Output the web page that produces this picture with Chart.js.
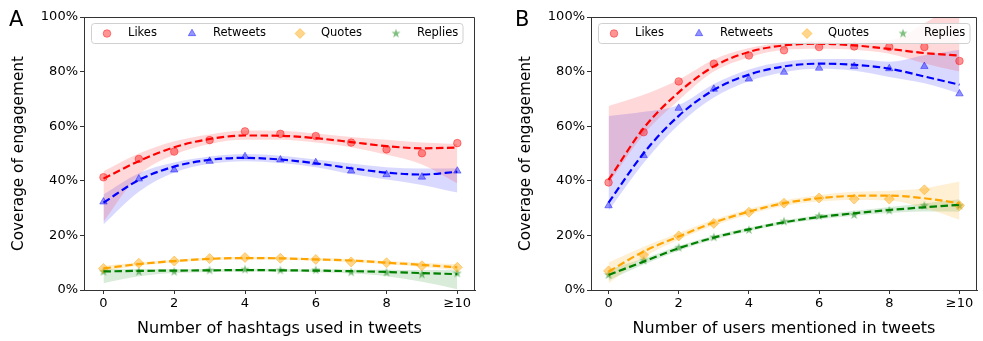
<!DOCTYPE html>
<html>
<head>
<meta charset="utf-8">
<script src="https://cdn.jsdelivr.net/npm/chart.js@4.4.1/dist/chart.umd.min.js"></script>
<style>
  html, body { margin: 0; padding: 0; background: #fff; }
  #wrap { position: relative; width: 983px; height: 341px; }
  .panel { position: absolute; top: 0; height: 341px; }
  #panelA { left: 0; width: 491px; }
  #panelB { left: 491px; width: 492px; }
</style>
</head>
<body>
<div id="wrap">
  <div class="panel" id="panelA"><canvas id="chartA" width="491" height="341"></canvas></div>
  <div class="panel" id="panelB"><canvas id="chartB" width="492" height="341"></canvas></div>
</div>
<script>
// ---- data (percent) ----
const xValues = [0, 1, 2, 3, 4, 5, 6, 7, 8, 9, 10];
const xTickValues = [0, 2, 4, 6, 8, 10];
const xTickLabels = ['0', '2', '4', '6', '8', '≥10'];
const yTickValues = [0, 20, 40, 60, 80, 100];
const seriesNames = ['Likes', 'Retweets', 'Quotes', 'Replies'];

// A: hashtags
const likesA      = [41.3, 48.0, 50.7, 54.9, 58.1, 57.2, 56.4, 54.0, 51.5, 50.1, 53.8];
const likesFitA   = [40.8, 47.2, 52.3, 55.3, 56.6, 56.5, 55.6, 54.2, 52.7, 51.9, 52.2];
const likesLoA    = [25.0, 42.0, 49.5, 53.5, 55.0, 55.0, 54.0, 52.3, 49.5, 46.0, 39.0];
const likesHiA    = [43.5, 50.0, 54.5, 57.0, 58.4, 58.3, 57.3, 56.0, 55.0, 54.0, 53.5];
const retweetsA    = [32.3, 40.7, 44.0, 47.2, 48.9, 47.7, 46.7, 43.6, 42.3, 41.4, 43.6];
const retweetsFitA = [32.0, 40.3, 45.2, 47.7, 48.4, 47.8, 46.4, 44.6, 43.0, 42.3, 43.3];
const retweetsLoA  = [24.0, 36.0, 43.0, 46.2, 47.2, 46.5, 45.0, 42.5, 40.5, 38.5, 35.7];
const retweetsHiA  = [35.0, 42.8, 46.7, 48.9, 49.8, 49.2, 47.8, 46.3, 45.0, 44.5, 44.6];
const quotesA    = [7.9, 9.8, 10.6, 11.5, 11.9, 11.6, 11.2, 10.3, 10.0, 8.9, 8.3];
const quotesFitA = [7.9, 9.5, 10.6, 11.4, 11.7, 11.6, 11.2, 10.8, 10.0, 9.2, 8.3];
const quotesLoA  = [6.9, 8.9, 10.1, 10.9, 11.2, 11.1, 10.7, 10.2, 9.4, 8.4, 7.2];
const quotesHiA  = [8.9, 10.1, 11.1, 11.9, 12.2, 12.1, 11.7, 11.4, 10.6, 10.0, 9.4];
const repliesA    = [6.7, 6.7, 6.7, 7.2, 7.5, 7.2, 7.3, 6.5, 6.4, 5.7, 6.1];
const repliesFitA = [6.8, 7.0, 7.1, 7.2, 7.3, 7.2, 7.1, 6.9, 6.6, 6.2, 5.8];
const repliesLoA  = [2.5, 5.0, 6.2, 6.6, 6.8, 6.7, 6.5, 6.0, 5.0, 3.0, 0.3];
const repliesHiA  = [7.8, 7.7, 7.7, 7.7, 7.8, 7.7, 7.6, 7.5, 7.4, 7.3, 7.4];

// B: users mentioned
const likesB      = [39.4, 57.8, 76.4, 82.9, 85.9, 87.8, 89.0, 89.2, 89.0, 89.0, 83.9];
const likesFitB   = [40.3, 59.3, 72.4, 81.9, 87.2, 89.6, 90.2, 89.6, 88.3, 86.8, 85.9];
const likesLoB    = [39.0, 57.0, 69.5, 80.0, 85.2, 88.0, 88.4, 88.0, 86.5, 83.0, 80.0];
const likesHiB    = [67.4, 71.5, 77.0, 84.4, 88.6, 90.7, 91.4, 91.7, 91.6, 97.7, 106.0];
const retweetsB    = [30.9, 49.3, 66.6, 73.6, 77.3, 79.8, 81.3, 81.9, 81.1, 81.9, 71.9];
const retweetsFitB = [32.0, 50.1, 63.8, 73.3, 78.9, 81.9, 82.9, 82.5, 81.1, 78.2, 75.2];
const retweetsLoB  = [29.0, 46.5, 60.5, 70.5, 76.5, 79.8, 81.0, 80.3, 78.0, 75.7, 72.0];
const retweetsHiB  = [63.7, 65.3, 67.8, 75.5, 80.8, 83.6, 84.6, 84.6, 83.6, 86.0, 88.0];
const quotesB    = [7.0, 12.8, 19.8, 24.4, 28.5, 31.8, 33.7, 33.3, 33.3, 36.7, 30.9];
const quotesFitB = [6.7, 14.1, 19.6, 24.7, 28.7, 31.8, 33.6, 34.5, 34.6, 33.6, 31.8];
const quotesLoB  = [2.4, 12.0, 18.4, 23.6, 27.7, 30.8, 32.4, 33.0, 32.8, 30.0, 25.7];
const quotesHiB  = [10.1, 15.8, 20.9, 25.8, 29.7, 32.8, 34.8, 36.0, 36.4, 37.3, 39.7];
const repliesB    = [5.5, 10.8, 15.5, 19.3, 22.0, 25.1, 27.1, 27.5, 29.1, 30.9, 30.9];
const repliesFitB = [5.5, 10.4, 15.3, 19.2, 22.2, 24.8, 26.7, 28.1, 29.3, 30.3, 31.2];
const repliesLoB  = [3.5, 9.3, 14.4, 18.4, 21.5, 24.1, 25.9, 27.2, 28.2, 28.8, 28.7];
const repliesHiB  = [7.5, 11.5, 16.2, 20.0, 22.9, 25.5, 27.5, 29.0, 30.4, 31.8, 33.2];

// ---- styles ----
Chart.defaults.font.family = '"DejaVu Sans", sans-serif';
Chart.defaults.color = '#000';

function makeStar(color) {
  const c = document.createElement('canvas');
  c.width = 12; c.height = 12;
  const g = c.getContext('2d');
  g.beginPath();
  for (let i = 0; i < 10; i++) {
    const r = i % 2 ? 1.9 : 4.8;
    const a = -Math.PI / 2 + i * Math.PI / 5;
    g.lineTo(6 + r * Math.cos(a), 6 + r * Math.sin(a));
  }
  g.closePath();
  g.fillStyle = color;
  g.fill();
  return c;
}

const lineColors = ['#ff0000', '#0000ff', '#ffa500', '#008000'];
const bandColors = ['rgba(255,0,0,0.15)', 'rgba(0,0,255,0.15)', 'rgba(255,165,0,0.17)', 'rgba(0,128,0,0.15)'];
const markers = [
  { pointStyle: 'circle', radius: 3.8, color: 'rgba(255,0,0,0.42)' },
  { pointStyle: 'triangle', radius: 4.3, color: 'rgba(0,0,255,0.42)' },
  { pointStyle: 'rectRot', radius: 5, color: 'rgba(255,165,0,0.45)' },
  { pointStyle: makeStar('rgba(0,128,0,0.5)'), radius: 4.5, color: 'rgba(0,128,0,0.5)' }
];

const xy = ys => xValues.map((x, i) => ({ x, y: ys[i] }));

function buildDatasets(series) {
  const ds = [];
  series.forEach((s, k) => {
    ds.push({ data: xy(s.lo), borderWidth: 0, pointRadius: 0, fill: false,
              cubicInterpolationMode: 'monotone', order: 3 });
    ds.push({ data: xy(s.hi), borderWidth: 0, pointRadius: 0, fill: '-1',
              backgroundColor: bandColors[k], cubicInterpolationMode: 'monotone', order: 3 });
  });
  series.forEach((s, k) => {
    ds.push({ label: seriesNames[k], data: xy(s.pts), showLine: false,
              pointStyle: markers[k].pointStyle, pointRadius: markers[k].radius,
              pointBackgroundColor: markers[k].color, pointBorderColor: markers[k].color,
              pointBorderWidth: 1, order: 2 });
  });
  series.forEach((s, k) => {
    ds.push({ data: xy(s.fit), borderColor: lineColors[k], borderWidth: 2.2,
              borderDash: [7.5, 3.5], pointRadius: 0, fill: false,
              cubicInterpolationMode: 'monotone', order: 1 });
  });
  return ds;
}

const panelDecor = {
  id: 'panelDecor',
  afterDatasetsDraw(chart) {
    const { ctx, chartArea: ca } = chart;
    const bx = ca.left + 7, by = ca.top + 6, bw = 371.5, bh = 20;
    const offsets = [16, 101, 209, 305];
    ctx.save();
    ctx.beginPath();
    ctx.roundRect(bx + 0.5, by + 0.5, bw, bh, 3);
    ctx.fillStyle = 'rgba(255,255,255,0.8)';
    ctx.fill();
    ctx.strokeStyle = '#d0d0d0';
    ctx.lineWidth = 1;
    ctx.stroke();
    const cy = by + 10.5;
    seriesNames.forEach((name, i) => {
      const m = markers[i];
      const mx = bx + offsets[i];
      ctx.fillStyle = m.color;
      ctx.strokeStyle = m.color;
      ctx.lineWidth = 1;
      Chart.helpers.drawPoint(ctx, { pointStyle: m.pointStyle, radius: m.radius, rotation: 0, borderWidth: 1 }, mx, cy);
      ctx.fillStyle = '#000';
      ctx.font = '11.5px "DejaVu Sans"';
      ctx.textBaseline = 'middle';
      ctx.textAlign = 'left';
      ctx.fillText(name, mx + 21, cy);
    });
    ctx.restore();
  },
  afterDraw(chart, args, opts) {
    const { ctx, chartArea: ca } = chart;
    ctx.save();
    ctx.strokeStyle = '#333';
    ctx.lineWidth = 1;
    ctx.beginPath();
    const t = Math.round(ca.top) + 0.5, r = Math.round(ca.right) - 0.5;
    ctx.moveTo(ca.left, t);
    ctx.lineTo(r, t);
    ctx.lineTo(r, ca.bottom);
    ctx.stroke();
    ctx.fillStyle = '#000';
    ctx.font = '21px "DejaVu Sans"';
    ctx.textBaseline = 'alphabetic';
    ctx.fillText(opts.letter, opts.letterX, 25.5);
    ctx.restore();
  }
};

function makeChart(id, series, xTitle, letter, letterX, xMin, padding) {
  return new Chart(document.getElementById(id), {
    type: 'line',
    data: { datasets: buildDatasets(series) },
    options: {
      responsive: false,
      animation: false,
      layout: { padding },
      plugins: {
        legend: { display: false },
        tooltip: { enabled: false },
        panelDecor: { letter, letterX }
      },
      scales: {
        x: {
          type: 'linear', min: xMin, max: 10.5,
          afterBuildTicks: s => { s.ticks = xTickValues.map(v => ({ value: v })); },
          afterFit: s => { s.height = 51; },
          ticks: { callback: (v, i) => xTickLabels[i], font: { size: 13 }, padding: 2,
                   maxRotation: 0, autoSkip: false, color: '#000' },
          grid: { drawOnChartArea: false, tickLength: 4, color: '#333' },
          border: { color: '#333' },
          title: { display: true, text: xTitle, font: { size: 16 }, padding: { top: 0, bottom: 3 }, color: '#000' }
        },
        y: {
          min: 0, max: 100,
          afterBuildTicks: s => { s.ticks = yTickValues.map(v => ({ value: v })); },
          afterFit: s => { s.width = 84; },
          ticks: { callback: v => v + '%', font: { size: 13 }, padding: 2, color: '#000' },
          grid: { drawOnChartArea: false, tickLength: 4, color: '#333' },
          border: { color: '#333' },
          title: { display: true, text: 'Coverage of engagement', font: { size: 15.3 }, padding: { top: 10, bottom: 0 }, color: '#000' }
        }
      }
    },
    plugins: [panelDecor]
  });
}

makeChart('chartA', [
  { pts: likesA, fit: likesFitA, lo: likesLoA, hi: likesHiA },
  { pts: retweetsA, fit: retweetsFitA, lo: retweetsLoA, hi: retweetsHiA },
  { pts: quotesA, fit: quotesFitA, lo: quotesLoA, hi: quotesHiA },
  { pts: repliesA, fit: repliesFitA, lo: repliesLoA, hi: repliesHiA }
], 'Number of hashtags used in tweets', 'A', 9, -0.55, { left: 0, right: 16, top: 17, bottom: 0 });

makeChart('chartB', [
  { pts: likesB, fit: likesFitB, lo: likesLoB, hi: likesHiB },
  { pts: retweetsB, fit: retweetsFitB, lo: retweetsLoB, hi: retweetsHiB },
  { pts: quotesB, fit: quotesFitB, lo: quotesLoB, hi: quotesHiB },
  { pts: repliesB, fit: repliesFitB, lo: repliesLoB, hi: repliesHiB }
], 'Number of users mentioned in tweets', 'B', 24, -0.5, { left: 16, right: 3, top: 17, bottom: 0 });
</script>
</body>
</html>
